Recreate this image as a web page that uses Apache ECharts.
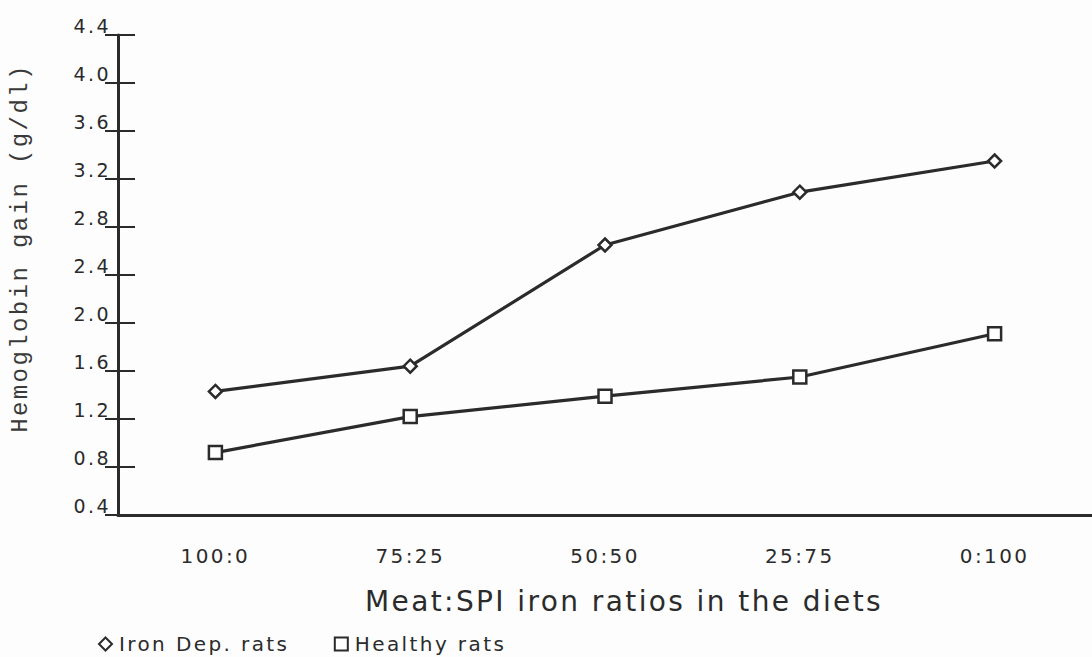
<!DOCTYPE html>
<html>
<head>
<meta charset="utf-8">
<script src="https://cdn.jsdelivr.net/npm/echarts@6/dist/echarts.min.js"></script>
<style>
  html, body { margin: 0; padding: 0; background: #fdfdfd; }
  #chart { width: 1092px; height: 657px; }
  /* the scanned figure uses widely spaced type */
  #chart text { letter-spacing: 2.4px; }
</style>
</head>
<body>
<div id="chart"></div>
<script>
// values
const ratios = ['100:0', '75:25', '50:50', '25:75', '0:100'];
const ironDep = [1.43, 1.64, 2.65, 3.09, 3.35];
const healthy = [0.92, 1.22, 1.39, 1.55, 1.91];

const ink = '#2b2b2b';

let myChart = echarts.init(document.getElementById('chart'), null, { renderer: 'svg' });

let option = {
  backgroundColor: '#fdfdfd',
  animation: false,
  grid: { left: 118, top: 35, width: 984, height: 480 },
  legend: {
    left: 93,
    top: 629,
    itemGap: 78,
    itemWidth: 13,
    itemHeight: 13,
    textStyle: { fontFamily: 'DejaVu Sans', fontSize: 20, color: ink, padding: [0, 0, 0, 2] },
    data: [
      { name: 'Iron Dep. rats', icon: 'diamond', itemStyle: { color: '#fff', borderColor: ink, borderWidth: 2 } },
      { name: 'Healthy rats', icon: 'rect', itemStyle: { color: '#fff', borderColor: ink, borderWidth: 2 } }
    ]
  },
  xAxis: [
    {
      type: 'category',
      data: ratios,
      boundaryGap: true,
      name: 'Meat:SPI iron ratios in the diets',
      nameLocation: 'middle',
      nameGap: 72,
      nameTextStyle: { fontFamily: 'DejaVu Sans', fontSize: 28, color: ink, padding: [0, 0, 0, 38] },
      axisLine: { lineStyle: { color: ink, width: 3 } },
      axisTick: { alignWithLabel: true, length: 14, lineStyle: { color: ink, width: 2 } },
      axisLabel: { margin: 31, fontFamily: 'DejaVu Sans', fontSize: 20, color: ink },
      splitLine: { show: false }
    },
    {
      // inner half of the cross ticks
      type: 'category',
      data: ratios,
      position: 'bottom',
      boundaryGap: true,
      axisLine: { show: false },
      axisTick: { inside: true, alignWithLabel: true, length: 14, lineStyle: { color: ink, width: 2 } },
      axisLabel: { show: false },
      splitLine: { show: false }
    }
  ],
  yAxis: [
    {
      type: 'value',
      min: 0.4,
      max: 4.4,
      interval: 0.4,
      name: 'Hemoglobin gain (g/dl)',
      nameLocation: 'middle',
      nameGap: 86,
      nameTextStyle: { fontFamily: 'Courier New, Liberation Mono, monospace', fontSize: 24, color: '#3a3a3a', padding: [0, 0, 0, 54] },
      axisLine: { show: true, lineStyle: { color: ink, width: 3 } },
      axisTick: { show: true, length: 13, lineStyle: { color: ink, width: 2 } },
      axisLabel: {
        margin: 7,
        fontFamily: 'DejaVu Sans',
        fontSize: 19,
        color: ink,
        verticalAlign: 'bottom',
        formatter: v => v.toFixed(1)
      },
      splitLine: { show: false }
    },
    {
      type: 'value',
      min: 0.4,
      max: 4.4,
      interval: 0.4,
      position: 'left',
      axisLine: { show: false },
      axisTick: { show: true, inside: true, length: 17, lineStyle: { color: ink, width: 2 } },
      axisLabel: { show: false },
      splitLine: { show: false }
    }
  ],
  series: [
    {
      name: 'Iron Dep. rats',
      type: 'line',
      data: ironDep,
      symbol: 'diamond',
      symbolSize: 13,
      lineStyle: { color: ink, width: 3.2 },
      itemStyle: { color: '#fff', borderColor: ink, borderWidth: 2.5 }
    },
    {
      name: 'Healthy rats',
      type: 'line',
      data: healthy,
      symbol: 'rect',
      symbolSize: 13,
      lineStyle: { color: ink, width: 3.2 },
      itemStyle: { color: '#fff', borderColor: ink, borderWidth: 2.5 }
    }
  ]
};

myChart.setOption(option);
</script>
</body>
</html>
